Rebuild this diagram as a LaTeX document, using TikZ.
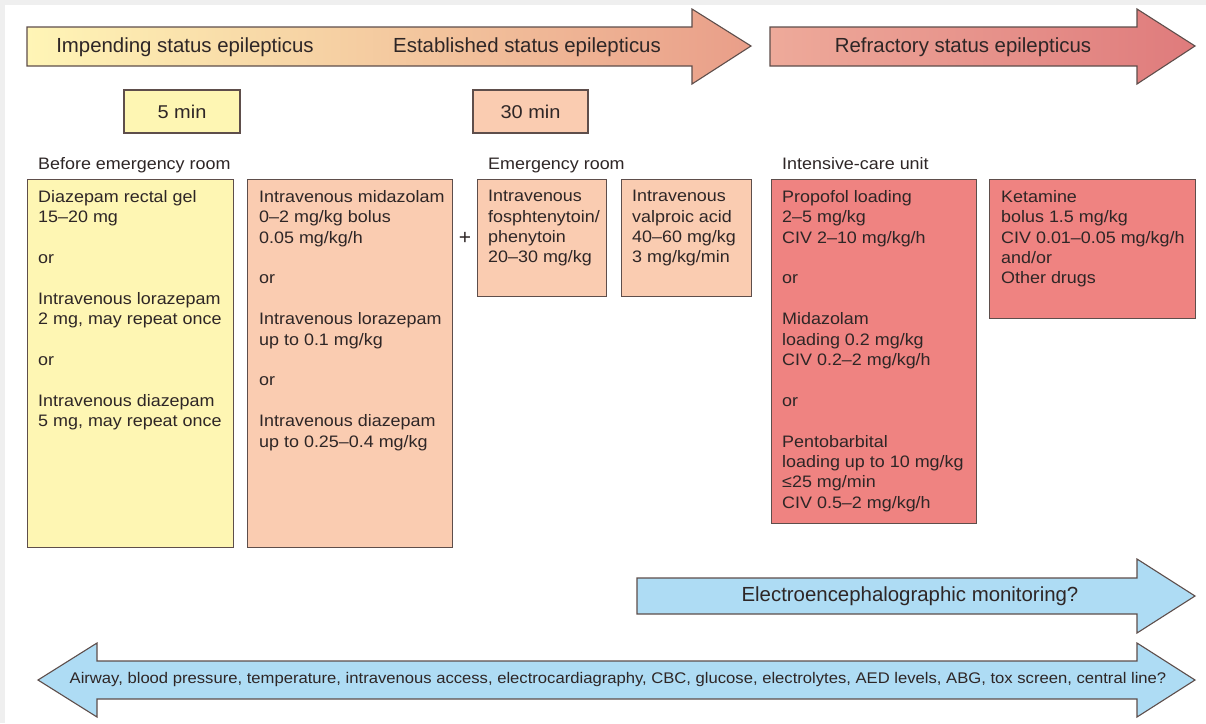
\documentclass[tikz,border=0pt]{standalone}
\usepackage{fontspec}
\setmainfont{Liberation Sans}
\newfontfamily\bxfont[FakeStretch=1.08]{Liberation Sans}
\definecolor{byellow}{HTML}{FEF6B3}
\definecolor{bsalmon}{HTML}{FACCB1}
\definecolor{bcoral}{HTML}{EF8381}
\definecolor{bblue}{HTML}{AEDCF4}
\definecolor{bord}{HTML}{5E4E4B}
\definecolor{txt}{HTML}{2E2626}
\definecolor{frame}{HTML}{EFEFEF}
\definecolor{aonel}{HTML}{FFF5B6}
\definecolor{aonem}{HTML}{F7D2AA}
\definecolor{aoner}{HTML}{E99E89}
\definecolor{atwol}{HTML}{EEAA9A}
\definecolor{atwor}{HTML}{DF7B7C}
\begin{document}
\begin{tikzpicture}[x=1pt,y=-1pt,
  outl/.style={draw=bord, line width=1.1pt, line join=miter},
  box/.style={outl, anchor=north west, inner sep=0pt},
  boxtxt/.style={anchor=north west, inner sep=0pt, align=left, text=txt,
    font=\bxfont\fontsize{16.6}{20.4}\selectfont},
  sectxt/.style={anchor=base west, inner sep=0pt, text=txt,
    font=\bxfont\fontsize{16.6}{20.4}\selectfont},
  headtxt/.style={inner sep=0pt, text=txt, font=\fontsize{20.4}{24}\selectfont},
  timebox/.style={outl, inner sep=0pt, minimum width=116pt, minimum height=43pt,
    text=txt, font=\bxfont\fontsize{18.5}{22}\selectfont},
  bottxt/.style={inner sep=0pt, text=txt, font=\bxfont\fontsize{15.4}{18}\selectfont}
]
\useasboundingbox (0,0) rectangle (1206,723);
\fill[white] (0,0) rectangle (1206,723);
\fill[frame] (0,0) rectangle (1206,5);
\fill[frame] (0,0) rectangle (5,723);

% top arrows
\draw[outl, left color=aonel, middle color=aonem, right color=aoner]
  (27,27) -- (692,27) -- (692,9) -- (751,46) -- (692,84) -- (692,66) -- (27,66) -- cycle;
\draw[outl, left color=atwol, right color=atwor]
  (770,27) -- (1137,27) -- (1137,9) -- (1195,46) -- (1137,84) -- (1137,66) -- (770,66) -- cycle;
\node[headtxt] (imp) at (185,47) {Impending status epilepticus};
\node[headtxt] (est) at (527,47) {Established status epilepticus};
\node[headtxt] (ref) at (963,47) {Refractory status epilepticus};

% time boxes
\node[timebox, fill=byellow] (t5) at (182,111.5) {5 min};
\node[timebox, fill=bsalmon, minimum width=115pt] (t30) at (530.5,111.5) {30 min};

% section labels
\node[sectxt] (ser) at (38,169) {Before emergency room};
\node[sectxt] (sem) at (488,169) {Emergency room};
\node[sectxt] (sic) at (782,169) {Intensive-care unit};

% boxes
\node[box, fill=byellow, minimum width=206pt, minimum height=368pt] (A) at (27,179) {};
\node[box, fill=bsalmon, minimum width=205pt, minimum height=368pt] (B) at (247,179) {};
\node[box, fill=bsalmon, minimum width=129pt, minimum height=117pt] (C) at (477,179) {};
\node[box, fill=bsalmon, minimum width=130pt, minimum height=117pt] (D) at (621,179) {};
\node[box, fill=bcoral, minimum width=205pt, minimum height=344pt] (E) at (771,179) {};
\node[box, fill=bcoral, minimum width=206pt, minimum height=139pt] (F) at (989,179) {};

\node[boxtxt] (At) at ([shift={(11,11)}]A.north west) {Diazepam rectal gel\\15–20 mg\\[20.4pt]or\\[20.4pt]Intravenous lorazepam\\2 mg, may repeat once\\[20.4pt]or\\[20.4pt]Intravenous diazepam\\5 mg, may repeat once};
\node[boxtxt] (Bt) at ([shift={(12,11)}]B.north west) {Intravenous midazolam\\0–2 mg/kg bolus\\0.05 mg/kg/h\\[20.4pt]or\\[20.4pt]Intravenous lorazepam\\up to 0.1 mg/kg\\[20.4pt]or\\[20.4pt]Intravenous diazepam\\up to 0.25–0.4 mg/kg};
\node[boxtxt] (Ct) at ([shift={(11,11)}]C.north west) {Intravenous\\fosphtenytoin/\\phenytoin\\20–30 mg/kg};
\node[boxtxt] (Dt) at ([shift={(11,11)}]D.north west) {Intravenous\\valproic acid\\40–60 mg/kg\\3 mg/kg/min};
\node[boxtxt] (Et) at ([shift={(11,11)}]E.north west) {Propofol loading\\2–5 mg/kg\\CIV 2–10 mg/kg/h\\[20.4pt]or\\[20.4pt]Midazolam\\loading 0.2 mg/kg\\CIV 0.2–2 mg/kg/h\\[20.4pt]or\\[20.4pt]Pentobarbital\\loading up to 10 mg/kg\\≤25 mg/min\\CIV 0.5–2 mg/kg/h};
\node[boxtxt] (Ft) at ([shift={(12,11)}]F.north west) {Ketamine\\bolus 1.5 mg/kg\\CIV 0.01–0.05 mg/kg/h\\and/or\\Other drugs};
\node[inner sep=0pt, text=txt, font=\fontsize{21}{24}\selectfont] (plus) at (465,238) {+};

% EEG arrow
\draw[outl, fill=bblue]
  (637,578) -- (1137,578) -- (1137,559) -- (1195,596) -- (1137,633) -- (1137,614) -- (637,614) -- cycle;
\node[headtxt] (eeg) at (910,596) {Electroencephalographic monitoring?};

% bottom double arrow
\draw[outl, fill=bblue]
  (38,680) -- (97,643) -- (97,661) -- (1137,661) -- (1137,643) -- (1195,680)
  -- (1137,717) -- (1137,699) -- (97,699) -- (97,717) -- cycle;
\node[bottxt] (gen) at (618,680) {Airway, blood pressure, temperature, intravenous access, electrocardiagraphy, CBC, glucose, electrolytes, AED levels, ABG, tox screen, central line?};
\end{tikzpicture}
\end{document}
